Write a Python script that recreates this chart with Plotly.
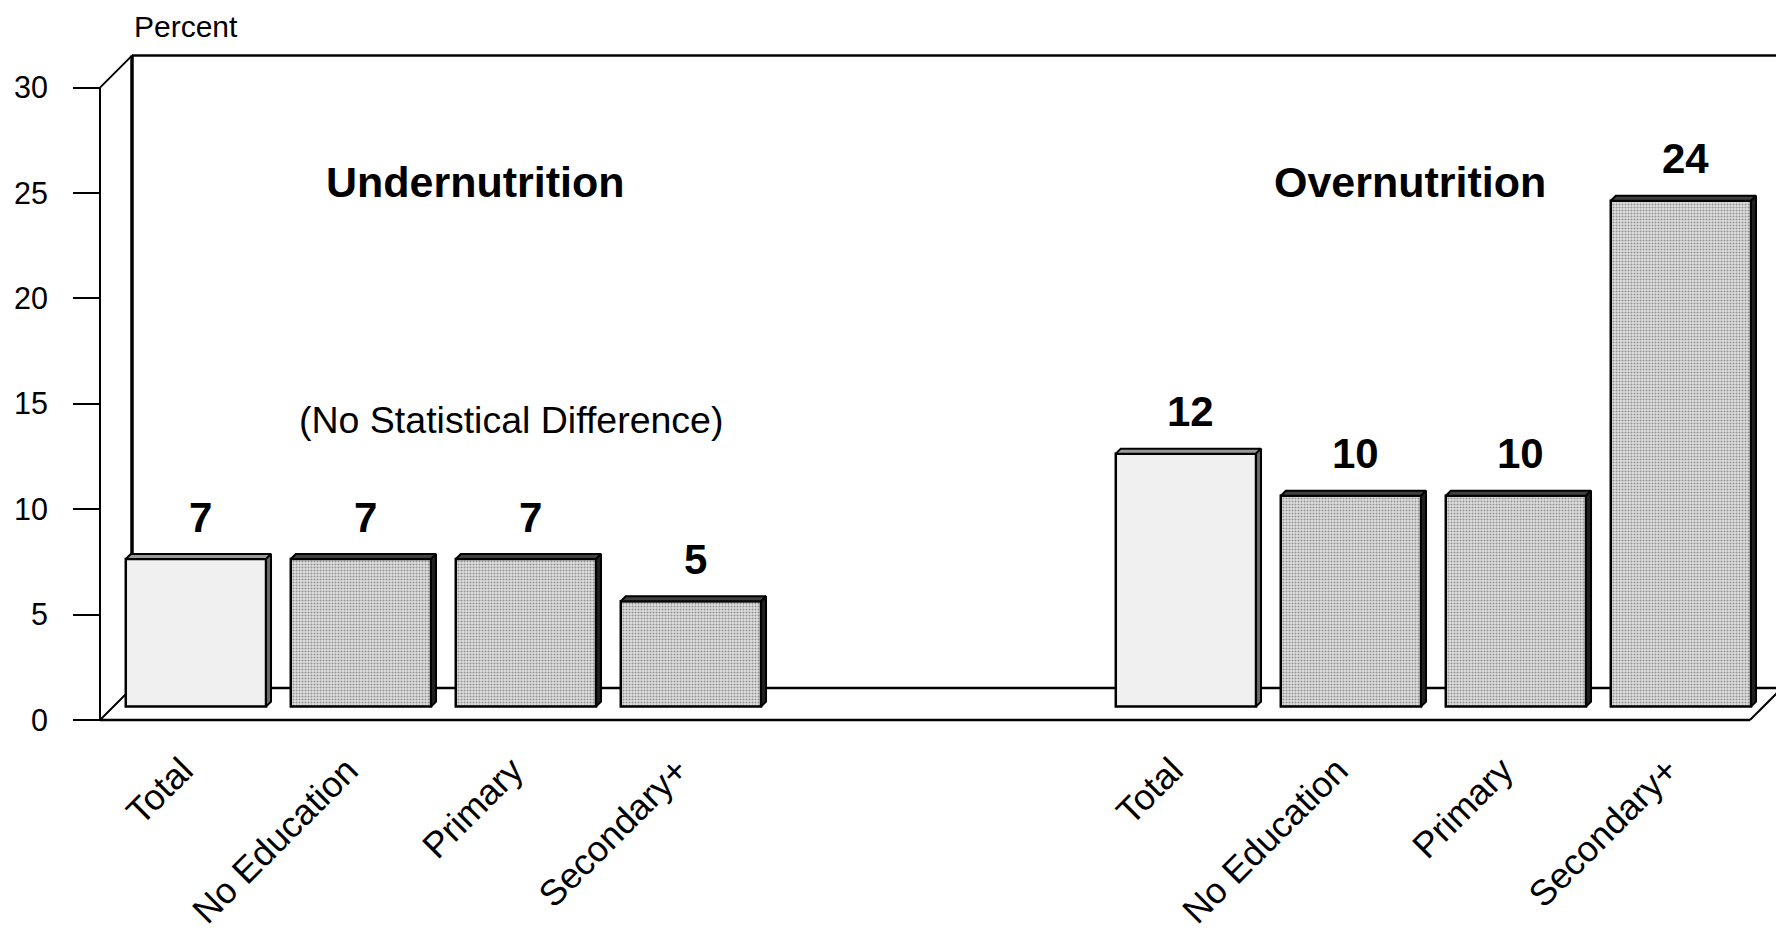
import plotly.graph_objects as go

# ---------------- data ----------------
categories = ["Total", "No Education", "Primary", "Secondary+"]
groups = ["Undernutrition", "Overnutrition"]
undernutrition = [7, 7, 7, 5]
overnutrition = [12, 10, 10, 24]
y_ticks = [0, 5, 10, 15, 20, 25, 30]
y_title = "Percent"
note_text = "(No Statistical Difference)"

# ---------------- geometry / style ----------------
OFF = 8                      # page body margin of the html page
W, H = 1784 - OFF, 933 - OFF
FONT = "Arial, 'Liberation Sans', sans-serif"
PX_SLOT = 165.0      # px per category slot
PX_UNIT = 21.08      # px per percent
X0_PX = 100.0 - OFF  # front floor left (px in figure)
Y0_PX = 720.0 - OFF  # front floor (px in figure)
DEPTH_PX = 32.0
N_SLOTS = 10
group_start = [0, 6]
YMAX = 30

dx = DEPTH_PX / PX_SLOT
dy = DEPTH_PX / PX_UNIT
f0 = 13.4 / DEPTH_PX   # bar front depth fraction
t = 5.0 / DEPTH_PX     # bar thickness fraction
bw = 0.85

dom_x_px = (94 - OFF, W)
dom_y_px = (50 - OFF, 726 - OFF)
xr = [(dom_x_px[0] - X0_PX) / PX_SLOT, (dom_x_px[1] - X0_PX) / PX_SLOT]
yr = [(Y0_PX - dom_y_px[1]) / PX_UNIT, (Y0_PX - dom_y_px[0]) / PX_UNIT]


def dxp(px_ref):
    return (px_ref - OFF - X0_PX) / PX_SLOT


def dyp(py_ref):
    return (Y0_PX - (py_ref - OFF)) / PX_UNIT


base = f0 * dy
bar_x, bar_v, bar_col, bar_pat, is_total = [], [], [], [], []
tick_vals, tick_text = [], []
for g, vals in zip(group_start, [undernutrition, overnutrition]):
    for i, v in enumerate(vals):
        bar_x.append(g + i + 0.5 + f0 * dx)
        bar_v.append(v)
        tot = (i == 0)
        is_total.append(tot)
        bar_col.append("#f0f0f0" if tot else "#e2e2e2")
        bar_pat.append("" if tot else ".")
        tick_vals.append(g + i + 0.5)
        tick_text.append(categories[i])

fig = go.Figure()
fig.add_trace(go.Bar(
    x=bar_x, y=bar_v, base=base, width=bw,
    marker=dict(color=bar_col, line=dict(color="black", width=2.5),
                pattern=dict(shape=bar_pat, fgcolor="#cdcdcd", fillmode="overlay",
                             size=3, solidity=0.4)),
    hoverinfo="skip", showlegend=False))

# 3D faces
faces = {("top", True): ([], []), ("top", False): ([], []),
         ("side", True): ([], []), ("side", False): ([], [])}
for cx, v, tot in zip(bar_x, bar_v, is_total):
    xl, xrt = cx - bw / 2, cx + bw / 2
    top = base + v
    px, py = faces[("top", tot)]
    px += [xl, xl + t * dx, xrt + t * dx, xrt, xl, None]
    py += [top, top + t * dy, top + t * dy, top, top, None]
    sx, sy = faces[("side", tot)]
    sx += [xrt, xrt + t * dx, xrt + t * dx, xrt, xrt, None]
    sy += [base, base + t * dy, top + t * dy, top, base, None]
face_col = {("top", True): "#9a9a9a", ("top", False): "#404040",
            ("side", True): "#6a6a6a", ("side", False): "#202020"}
for k, (fx, fy) in faces.items():
    fig.add_trace(go.Scatter(x=fx, y=fy, mode="lines", fill="toself",
                             fillcolor=face_col[k], line=dict(color="black", width=2),
                             hoverinfo="skip", showlegend=False))


# frame
def seg(x0, y0, x1, y1, w):
    return dict(type="line", xref="x", yref="y", x0=x0, y0=y0, x1=x1, y1=y1,
                line=dict(color="black", width=w), layer="below")


shapes = [
    seg(0, 0, 0, YMAX, 2),
    seg(0, YMAX, dx, YMAX + dy, 2),
    seg(dx, dy, dx, YMAX + dy, 3.5),
    seg(dx, YMAX + dy, N_SLOTS + dx, YMAX + dy, 2.5),
    seg(N_SLOTS + dx, YMAX + dy, N_SLOTS + dx, dy, 3),
    seg(0, 0, N_SLOTS, 0, 2.5),
    seg(0, 0, dx, dy, 2),
    seg(N_SLOTS, 0, N_SLOTS + dx, dy, 2),
    seg(dx, dy, N_SLOTS + dx, dy, 2.5),
]

ann = []
ann.append(dict(text=y_title, xref="paper", yref="paper", x=(132 - OFF) / W,
                y=1 - (26 - OFF) / H, xanchor="left", yanchor="middle", showarrow=False,
                font=dict(size=30, family=FONT, color="black")))
title_pos = [(dxp(475), dyp(182)), (dxp(1410), dyp(182))]
for gname, (gx, gy) in zip(groups, title_pos):
    ann.append(dict(text="<b>%s</b>" % gname, x=gx, y=gy, xref="x", yref="y",
                    showarrow=False, font=dict(size=43, family=FONT, color="black")))
ann.append(dict(text=note_text, x=dxp(511), y=dyp(420),
                xref="x", yref="y", showarrow=False,
                font=dict(size=37.5, family=FONT, color="black")))
for cx, v in zip(bar_x, bar_v):
    ann.append(dict(text="<b>%d</b>" % v, x=cx + t * dx, y=base + v, xref="x", yref="y",
                    yshift=42, yanchor="middle", showarrow=False,
                    font=dict(size=42, family=FONT, color="black")))

fig.update_layout(
    width=W, height=H, template="none",
    margin=dict(l=0, r=0, t=0, b=0, autoexpand=False),
    paper_bgcolor="white", plot_bgcolor="rgba(0,0,0,0)",
    showlegend=False, shapes=shapes, annotations=ann, barmode="overlay",
    xaxis=dict(domain=[dom_x_px[0] / W, 1.0], range=xr, anchor="free",
               position=1 - Y0_PX / H, tickmode="array", tickvals=tick_vals,
               ticktext=tick_text, tickangle=-45, ticks="", showgrid=False,
               zeroline=False, showline=False, automargin=False,
               ticklabelstandoff=21,
               tickfont=dict(size=36, family=FONT, color="black")),
    yaxis=dict(domain=[1 - dom_y_px[1] / H, 1 - dom_y_px[0] / H], range=yr,
               anchor="free", position=X0_PX / W, tickmode="array",
               tickvals=y_ticks, ticks="outside", ticklen=27, tickwidth=2,
               tickcolor="black", showgrid=False, zeroline=False, showline=False,
               automargin=False, ticklabelstandoff=19,
               tickfont=dict(size=30.5, family=FONT, color="black")),
)
fig.write_html("out.html")
